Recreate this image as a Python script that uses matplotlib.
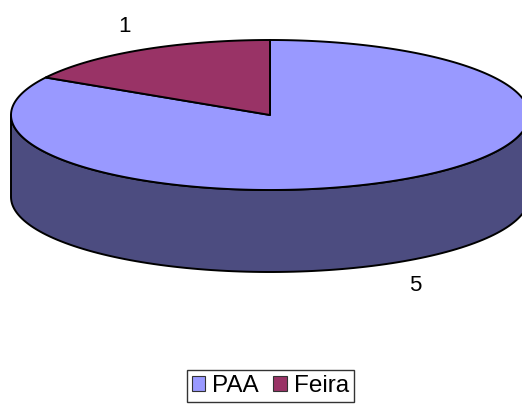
import numpy as np
import matplotlib
matplotlib.use("Agg")
import matplotlib.pyplot as plt
from matplotlib.patches import Polygon, Patch

labels = ["PAA", "Feira"]
values = [5, 1]
top_colors = ["#9999FF", "#993366"]
side_colors = ["#4C4C80", "#4D1A33"]

plt.rcParams["font.family"] = ["Liberation Sans", "DejaVu Sans"]

# pie geometry in pixels
cx, cy = 270, 115
rx, ry = 259, 75
depth = 82
edge = dict(edgecolor="black", linewidth=1.4, joinstyle="round")


def pt(deg, dy=0):
    a = np.radians(deg)
    return cx + rx * np.cos(a), cy - ry * np.sin(a) + dy


fig = plt.figure(figsize=(5.22, 4.08), dpi=100)
ax = fig.add_axes([0, 0, 1, 1])
ax.set_xlim(0, 522)
ax.set_ylim(408, 0)
ax.axis("off")

# slices go clockwise from 12 o'clock
total = sum(values)
bounds = []
start = 90.0
for v in values:
    end = start - 360.0 * v / total
    bounds.append((start, end))
    start = end

# front side walls (visible part is the lower half, 180..360 deg)
for (s, e), col in zip(bounds, side_colors):
    lo, hi = sorted((s, e))
    segs = []
    for k in (-360, 0, 360):
        a0, a1 = max(lo + k, 180), min(hi + k, 360)
        if a1 > a0:
            segs.append((a0, a1))
    for a0, a1 in segs:
        ang = np.linspace(a0, a1, 120)
        top = [pt(a) for a in ang]
        bot = [pt(a, depth) for a in ang[::-1]]
        ax.add_patch(Polygon(top + bot, closed=True, facecolor=col, **edge))

# top faces
for (s, e), col in zip(bounds, top_colors):
    ang = np.linspace(s, e, 300)
    verts = [(cx, cy)] + [pt(a) for a in ang]
    ax.add_patch(Polygon(verts, closed=True, facecolor=col, **edge))

# value labels
for (s, e), v in zip(bounds, values):
    mid = np.radians((s + e) / 2)
    lx = cx + 1.12 * rx * np.cos(mid)
    ly = cy - 1.37 * ry * np.sin(mid)
    if np.sin(mid) < 0:
        ly += depth
    ax.text(lx, ly, str(v), fontsize=16, ha="center", va="center")

handles = [Patch(facecolor=c, edgecolor="#333333", linewidth=0.8) for c in top_colors]
leg = fig.legend(handles, labels, loc="center", bbox_to_anchor=(0.518, 0.054),
                 ncol=2, fontsize=17.5, frameon=True, fancybox=False,
                 handlelength=0.55, handleheight=0.55, handletextpad=0.3,
                 columnspacing=0.6, borderpad=0.2, borderaxespad=0)
leg.get_frame().set_edgecolor("black")
leg.get_frame().set_linewidth(1.0)

fig.savefig("out.png", dpi=100)
